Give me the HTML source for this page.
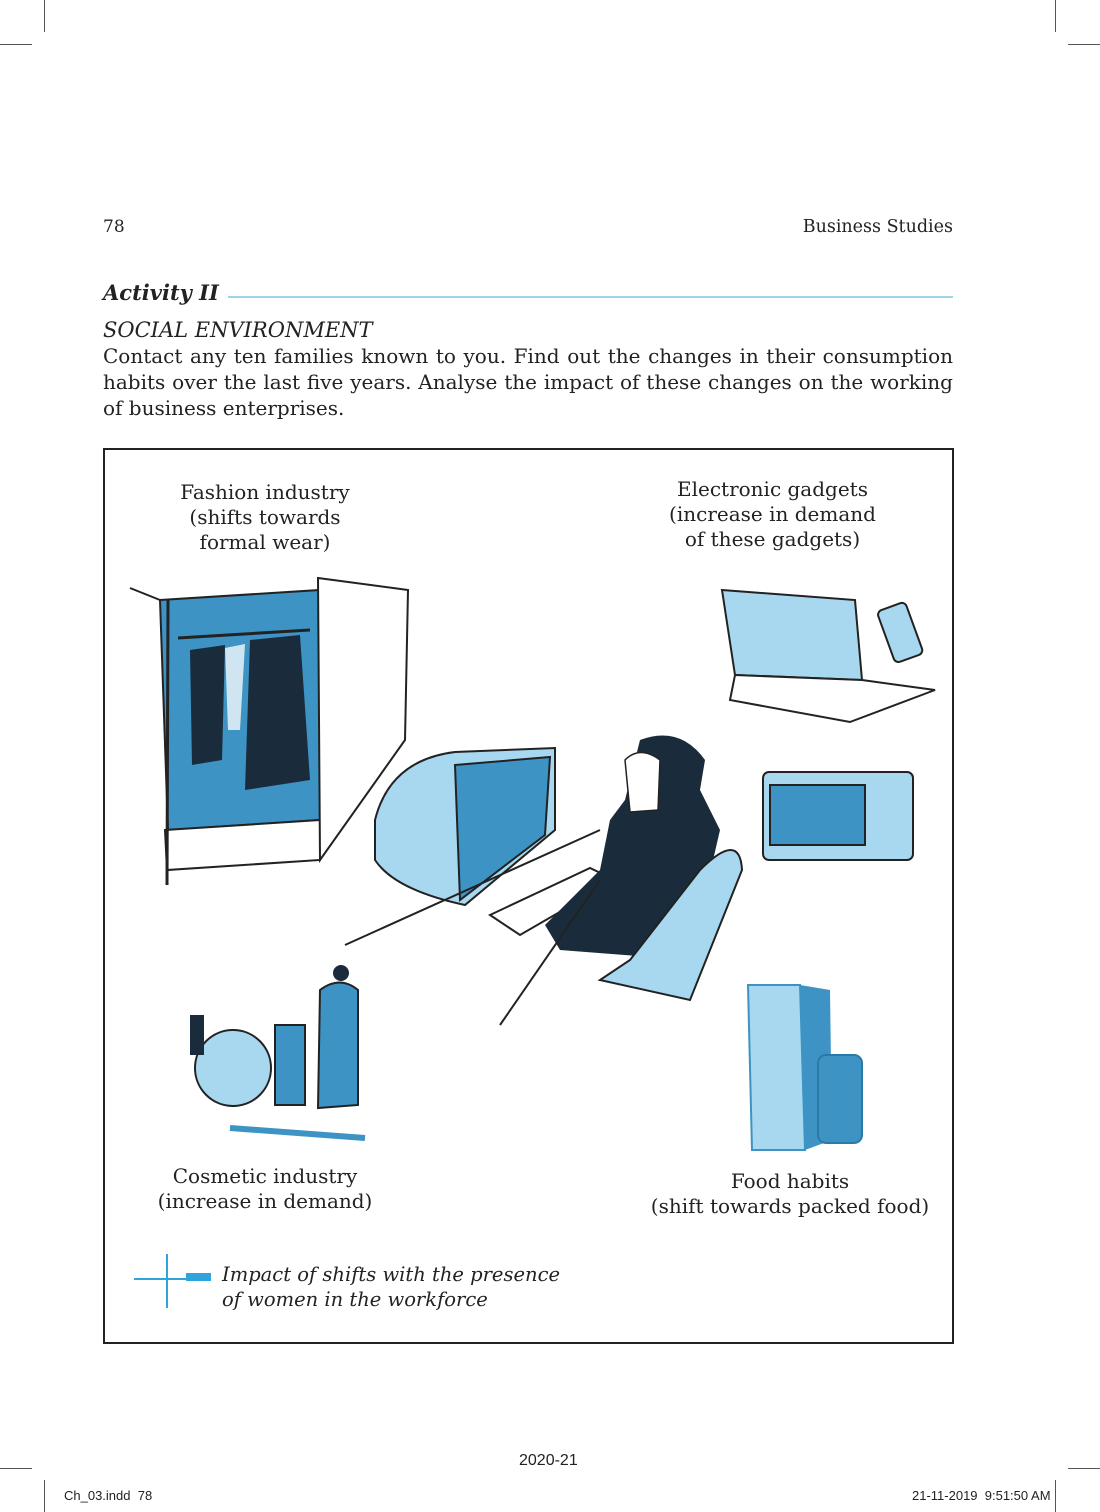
<!DOCTYPE html>
<html><head><meta charset="utf-8"><style>
body{margin:0;width:1100px;height:1512px;background:#fff;position:relative;overflow:hidden;font-family:"DejaVu Serif","Liberation Serif",serif;color:#222}
.a{position:absolute}
.c{text-align:center;font-size:20px;line-height:25px;white-space:nowrap}
.j{position:absolute;left:103px;width:850px;font-size:20px;text-align:justify;text-align-last:justify;white-space:nowrap}
</style></head><body>
<div class="a" style="left:44px;top:0;width:1px;height:32px;background:#555"></div>
<div class="a" style="left:0;top:44px;width:32px;height:1px;background:#555"></div>
<div class="a" style="left:1055px;top:0;width:1px;height:32px;background:#555"></div>
<div class="a" style="left:1068px;top:44px;width:32px;height:1px;background:#555"></div>
<div class="a" style="left:44px;top:1480px;width:1px;height:32px;background:#555"></div>
<div class="a" style="left:0;top:1468px;width:32px;height:1px;background:#555"></div>
<div class="a" style="left:1055px;top:1480px;width:1px;height:32px;background:#555"></div>
<div class="a" style="left:1068px;top:1468px;width:32px;height:1px;background:#555"></div>

<div class="a" style="left:103px;top:217px;font-size:17px">78</div>
<div class="a" style="left:784px;top:217px;width:169px;font-size:17.5px;text-align:right;white-space:nowrap">Business Studies</div>
<div class="a" style="left:103px;top:280px;font-size:21px;font-weight:bold;font-style:italic">Activity II</div>
<div class="a" style="left:228px;top:296px;width:725px;height:2px;background:#9dd4e8"></div>
<div class="a" style="left:103px;top:318px;font-size:21px;font-style:italic">SOCIAL ENVIRONMENT</div>
<div class="j" style="top:344px;white-space:normal;height:27px;overflow:hidden">Contact any ten families known to you. Find out the changes in their consumption</div>
<div class="j" style="top:370px;white-space:normal;height:27px;overflow:hidden">habits over the last five years. Analyse the impact of these changes on the working</div>
<div class="a" style="left:103px;top:396px;font-size:20px;white-space:nowrap">of business enterprises.</div>

<div class="a" style="left:103px;top:448px;width:847px;height:892px;border:2px solid #222"></div>
<div class="a c" style="left:130px;top:480px;width:270px">Fashion industry<br>(shifts towards<br>formal wear)</div>
<div class="a c" style="left:630px;top:477px;width:285px">Electronic gadgets<br>(increase in demand<br>of these gadgets)</div>
<div class="a c" style="left:125px;top:1164px;width:280px">Cosmetic industry<br>(increase in demand)</div>
<div class="a c" style="left:620px;top:1169px;width:340px">Food habits<br>(shift towards packed food)</div>

<svg class="a" style="left:0;top:0" width="1100" height="1512">
<polygon points="160,600 320,590 320,820 168,830" fill="#3d93c4" stroke="#222" stroke-width="2"/>
<polygon points="165,830 320,820 320,860 167,870" fill="#fff" stroke="#222" stroke-width="2"/>
<line x1="130" y1="588" x2="160" y2="600" stroke="#222" stroke-width="2"/>
<polygon points="318,578 408,590 405,740 320,860" fill="#fff" stroke="#222" stroke-width="2"/>
<line x1="178" y1="638" x2="310" y2="630" stroke="#222" stroke-width="3"/>
<path d="M250,640 L300,635 L310,780 L245,790 Z" fill="#1a2c3c"/>
<path d="M190,650 L225,645 L222,760 L192,765 Z" fill="#1a2c3c"/>
<path d="M225,648 L245,644 L240,730 L228,730 Z" fill="#cfe6f2"/>
<line x1="168" y1="600" x2="167" y2="885" stroke="#222" stroke-width="3"/>
<polygon points="722,590 855,600 862,680 735,675" fill="#a8d8ef" stroke="#222" stroke-width="2"/>
<polygon points="735,675 862,680 935,690 850,722 730,700" fill="#fff" stroke="#222" stroke-width="2"/>
<rect x="885" y="605" width="30" height="55" rx="5" fill="#a8d8ef" stroke="#222" stroke-width="2" transform="rotate(-20 900 632)"/>
<rect x="763" y="772" width="150" height="88" rx="6" fill="#a8d8ef" stroke="#222" stroke-width="2"/>
<rect x="770" y="785" width="95" height="60" fill="#3d93c4" stroke="#222" stroke-width="2"/>
<path d="M375,820 Q390,760 455,752 L555,748 L555,830 L465,905 Q395,890 375,860 Z" fill="#a8d8ef" stroke="#222" stroke-width="2"/>
<polygon points="455,765 550,757 545,835 460,900" fill="#3d93c4" stroke="#222" stroke-width="2"/>
<line x1="345" y1="945" x2="600" y2="830" stroke="#222" stroke-width="2"/>
<polygon points="490,915 590,868 615,880 520,935" fill="#fff" stroke="#222" stroke-width="2"/>
<path d="M640,740 Q680,725 705,760 L700,790 L720,830 L690,960 L560,950 L545,925 L600,870 L610,820 L625,800 Z" fill="#1a2c3c"/>
<path d="M625,760 Q640,745 660,760 L658,810 L630,812 Z" fill="#fff" stroke="#222" stroke-width="1.5"/>
<path d="M700,870 Q740,830 742,870 L690,1000 L600,980 L630,960 Z" fill="#a8d8ef" stroke="#222" stroke-width="2"/>
<line x1="500" y1="1025" x2="600" y2="880" stroke="#222" stroke-width="2"/>
<circle cx="233" cy="1068" r="38" fill="#a8d8ef" stroke="#222" stroke-width="2"/>
<rect x="275" y="1025" width="30" height="80" fill="#3d93c4" stroke="#222" stroke-width="2"/>
<path d="M320,990 Q340,975 358,990 L358,1105 L318,1108 Z" fill="#3d93c4" stroke="#222" stroke-width="2"/>
<circle cx="341" cy="973" r="8" fill="#1a2c3c"/>
<rect x="190" y="1015" width="14" height="40" fill="#1a2c3c"/>
<line x1="230" y1="1128" x2="365" y2="1138" stroke="#3d93c4" stroke-width="6"/>
<polygon points="748,985 800,985 805,1150 752,1150" fill="#a8d8ef" stroke="#3d93c4" stroke-width="2"/>
<polygon points="800,985 830,990 832,1140 805,1150" fill="#3d93c4"/>
<rect x="818" y="1055" width="44" height="88" rx="8" fill="#3d93c4" stroke="#2a7aa8" stroke-width="2"/>
<line x1="134" y1="1279" x2="210" y2="1279" stroke="#2ea3dc" stroke-width="2"/>
<line x1="167" y1="1254" x2="167" y2="1308" stroke="#2ea3dc" stroke-width="2"/>
<rect x="186" y="1273" width="25" height="8" fill="#2ea3dc"/>
</svg>
<div class="a" style="left:222px;top:1262px;font-size:19.5px;line-height:25px;font-style:italic;white-space:nowrap">Impact of shifts with the presence<br>of women in the workforce</div>

<div class="a" style="left:519px;top:1452px;font-family:'Liberation Sans',sans-serif;font-size:16px">2020-21</div>
<div class="a" style="left:64px;top:1488px;font-family:'Liberation Sans',sans-serif;font-size:13px">Ch_03.indd &nbsp;78</div>
<div class="a" style="left:912px;top:1488px;font-family:'Liberation Sans',sans-serif;font-size:13px">21-11-2019 &nbsp;9:51:50 AM</div>
</body></html>
